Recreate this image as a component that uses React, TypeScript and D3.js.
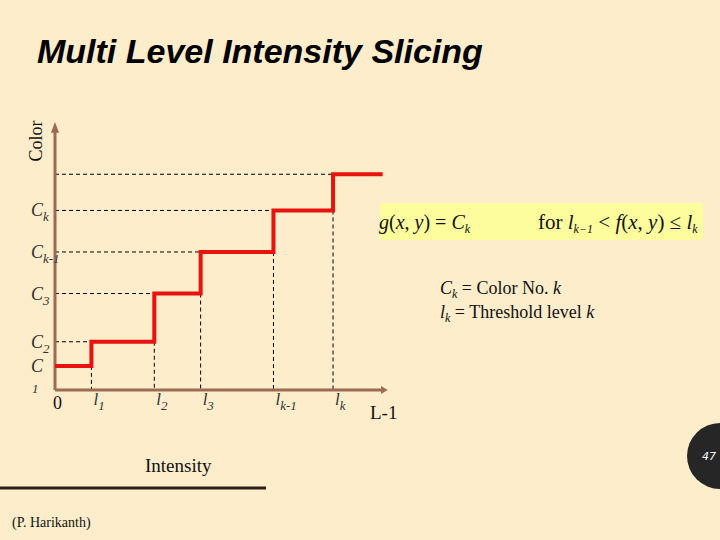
import React from "react";
import * as d3 from "d3";

// ---- data ----
const thresholds = [0, 11, 30, 44, 66, 84, 99]; // intensity break points (0 .. end)
const levels = [9, 18, 36, 51.5, 67, 80.5]; // output colour level per interval
const yLabels = [
  { base: "C", sub: "1", wrap: true },
  { base: "C", sub: "2" },
  { base: "C", sub: "3" },
  { base: "C", sub: "k-1" },
  { base: "C", sub: "k" },
];
const xLabels = [
  { base: "l", sub: "1" },
  { base: "l", sub: "2" },
  { base: "l", sub: "3" },
  { base: "l", sub: "k-1" },
  { base: "l", sub: "k" },
];

const W = 720;
const H = 540;
const BG = "#fdedca";
const AXIS = "#9c6b52";
const RED = "#e8120e";

export default function App() {
  const x = d3.scaleLinear().domain([0, 100]).range([55, 386]);
  const y = d3.scaleLinear().domain([0, 100]).range([390, 122]);

  // step path
  const pts: [number, number][] = [];
  levels.forEach((lv, i) => {
    pts.push([thresholds[i], lv]);
    pts.push([thresholds[i + 1], lv]);
  });
  const line = d3
    .line<[number, number]>()
    .x((d) => x(d[0]))
    .y((d) => y(d[1]));

  const serif = "'Liberation Serif', 'Times New Roman', serif";

  return (
    <svg
      width={W}
      height={H}
      style={{ position: "absolute", left: 0, top: 0, background: BG }}
    >
      <rect x={0} y={0} width={W} height={H} fill={BG} />
      <text
        x={37}
        y={63}
        fontFamily="'Liberation Sans', Arial, sans-serif"
        fontWeight="bold"
        fontStyle="italic"
        fontSize={34}
        fill="#000"
      >
        Multi Level Intensity Slicing
      </text>

      {/* dashed guides */}
      {levels.map((lv, i) => (
        <g key={"d" + i}>
          {i > 0 && (
            <line
              x1={x(0)}
              x2={x(thresholds[i])}
              y1={y(lv)}
              y2={y(lv)}
              stroke="#000"
              strokeWidth={1}
              strokeDasharray="4,3"
            />
          )}
          {i > 0 && (
            <line
              x1={x(thresholds[i])}
              x2={x(thresholds[i])}
              y1={y(levels[i - 1])}
              y2={y(0)}
              stroke="#000"
              strokeWidth={1}
              strokeDasharray="4,3"
            />
          )}
        </g>
      ))}

      {/* axes */}
      <line x1={x(0)} x2={x(0)} y1={y(0)} y2={y(97)} stroke={AXIS} strokeWidth={3} />
      <path
        d={`M${x(0) - 4},${y(96)} L${x(0)},${y(100)} L${x(0) + 4},${y(96)} Z`}
        fill={AXIS}
      />
      <line x1={x(0)} x2={x(98.5)} y1={y(0)} y2={y(0)} stroke={AXIS} strokeWidth={3} />
      <path
        d={`M${x(98.5)},${y(0) - 4} L${x(100.5)},${y(0)} L${x(98.5)},${y(0) + 4} Z`}
        fill={AXIS}
      />

      {/* step line */}
      <path
        d={line(pts) || ""}
        fill="none"
        stroke={RED}
        strokeWidth={4}
        strokeLinejoin="miter"
        strokeLinecap="butt"
      />

      {/* y labels */}
      {yLabels.map((lb, i) =>
        lb.wrap ? (
          <g key={"y" + i} fontFamily={serif} fontStyle="italic" fill="#333">
            <text x={31} y={y(levels[i]) + 6} fontSize={18}>
              {lb.base}
            </text>
            <text x={32} y={y(0) + 3} fontSize={13}>
              {lb.sub}
            </text>
          </g>
        ) : (
          <text
            key={"y" + i}
            x={31}
            y={y(levels[i]) + 6}
            fontFamily={serif}
            fontStyle="italic"
            fontSize={18}
            fill="#333"
          >
            {lb.base}
            <tspan fontSize={13} dy={5}>
              {lb.sub}
            </tspan>
          </text>
        )
      )}

      {/* x labels */}
      <text x={53} y={409} fontFamily={serif} fontSize={18} fill="#111">
        0
      </text>
      {xLabels.map((lb, i) => (
        <text
          key={"x" + i}
          x={x(thresholds[i + 1]) + 2}
          y={405}
          fontFamily={serif}
          fontStyle="italic"
          fontSize={17}
          fill="#333"
        >
          {lb.base}
          <tspan fontSize={13} dy={5}>
            {lb.sub}
          </tspan>
        </text>
      ))}
      <text x={370} y={419} fontFamily={serif} fontSize={19} fill="#111">
        L-1
      </text>

      <text
        x={36}
        y={141}
        transform="rotate(-90 36 141)"
        textAnchor="middle"
        dominantBaseline="central"
        fontFamily={serif}
        fontSize={18}
        fill="#111"
      >
        Color
      </text>

      {/* formula */}
      <rect x={380} y={203} width={323} height={37} fill="#fdfd9e" />
      <text x={379} y={229} fontFamily={serif} fontSize={20} fill="#111">
        <tspan fontStyle="italic">g</tspan>(<tspan fontStyle="italic">x</tspan>,{" "}
        <tspan fontStyle="italic">y</tspan>) = <tspan fontStyle="italic">C</tspan>
        <tspan fontStyle="italic" fontSize={12} dy={4}>
          k
        </tspan>
      </text>
      <text x={538} y={229} fontFamily={serif} fontSize={21} fill="#111">
        for <tspan fontStyle="italic">l</tspan>
        <tspan fontStyle="italic" fontSize={12} dy={4}>
          k−1
        </tspan>
        <tspan dy={-4}> &lt; </tspan>
        <tspan fontStyle="italic">f</tspan>(<tspan fontStyle="italic">x</tspan>,{" "}
        <tspan fontStyle="italic">y</tspan>) ≤ <tspan fontStyle="italic">l</tspan>
        <tspan fontStyle="italic" fontSize={12} dy={4}>
          k
        </tspan>
      </text>

      <text x={440} y={294} fontFamily={serif} fontSize={18} fill="#111">
        <tspan fontStyle="italic">C</tspan>
        <tspan fontStyle="italic" fontSize={12} dy={4}>
          k
        </tspan>
        <tspan dy={-4}> = Color No. </tspan>
        <tspan fontStyle="italic">k</tspan>
      </text>
      <text x={440} y={318} fontFamily={serif} fontSize={18} fill="#111">
        <tspan fontStyle="italic">l</tspan>
        <tspan fontStyle="italic" fontSize={12} dy={4}>
          k
        </tspan>
        <tspan dy={-4}> = Threshold level </tspan>
        <tspan fontStyle="italic">k</tspan>
      </text>

      <text x={145} y={472} fontFamily={serif} fontSize={19} fill="#111">
        Intensity
      </text>
      <line x1={0} x2={266} y1={488} y2={488} stroke="#2b2116" strokeWidth={3} />
      <text x={12} y={527} fontFamily={serif} fontSize={14} fill="#111">
        (P. Harikanth)
      </text>

      <circle cx={720} cy={456} r={33} fill="#262626" />
      <text
        x={709}
        y={460}
        textAnchor="middle"
        fontFamily="'DejaVu Sans', sans-serif"
        fontStyle="italic"
        fontSize={11}
        fill="#fff"
      >
        47
      </text>
    </svg>
  );
}
